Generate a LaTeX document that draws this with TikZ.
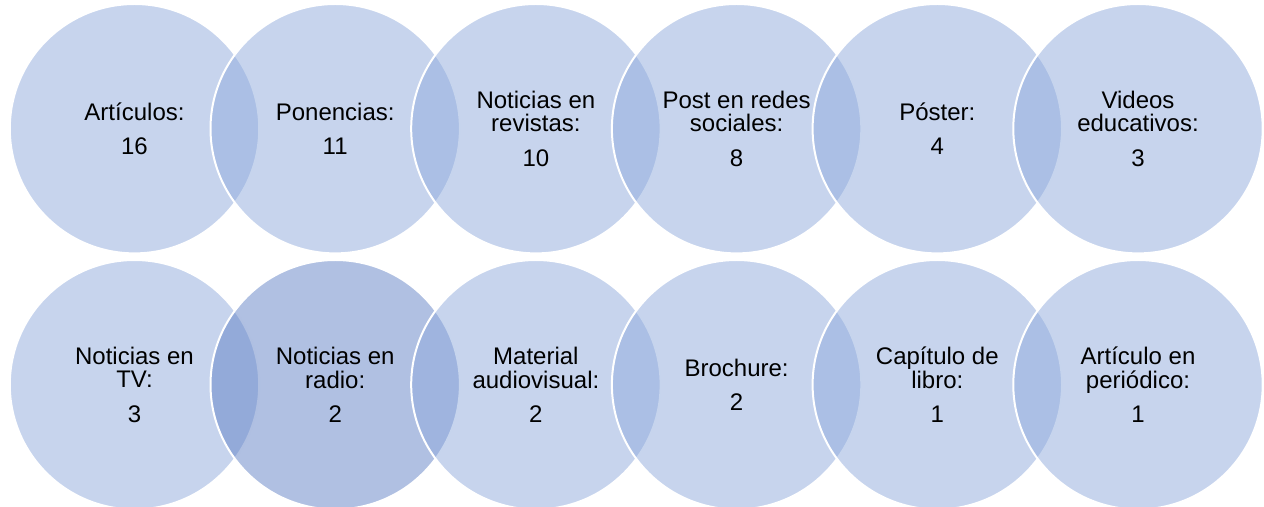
\documentclass[tikz,border=0pt]{standalone}
\usepackage{fontspec}
\setmainfont{Liberation Sans}
\definecolor{vfill}{RGB}{143,170,220}
\definecolor{vdark}{RGB}{97,129,197}
\tikzset{
  venn/.style={circle, minimum size=124.7pt, inner sep=0pt,
    draw=white, line width=1pt, fill=vfill, fill opacity=0.5,
    text opacity=1, text=black, align=center,
    font=\fontsize{12}{11.8}\selectfont},
  venndark/.style={venn, fill=vdark}
}
\begin{document}
\begin{tikzpicture}[x=0.5pt,y=-0.5pt]
\useasboundingbox (0,0) rectangle (1264,507);
% top row
\node[venn] (c1) at (134.5,128.7) {Artículos:\\[5.3pt]16};
\node[venn] (c2) at (335.2,128.7) {Ponencias:\\[5.3pt]11};
\node[venn] (c3) at (535.9,128.7) {Noticias en\\revistas:\\[5.3pt]10};
\node[venn] (c4) at (736.6,128.7) {Post en redes\\sociales:\\[5.3pt]8};
\node[venn] (c5) at (937.3,128.7) {Póster:\\[5.3pt]4};
\node[venn] (c6) at (1138,128.7) {Videos\\educativos:\\[5.3pt]3};
% bottom row
\node[venn] (c7) at (134.5,384.7) {Noticias en\\TV:\\[5.3pt]3};
\node[venndark] (c8) at (335.2,384.7) {Noticias en\\radio:\\[5.3pt]2};
\node[venn] (c9) at (535.9,384.7) {Material\\audiovisual:\\[5.3pt]2};
\node[venn] (c10) at (736.6,384.7) {Brochure:\\[5.3pt]2};
\node[venn] (c11) at (937.3,384.7) {Capítulo de\\libro:\\[5.3pt]1};
\node[venn] (c12) at (1138,384.7) {Artículo en\\periódico:\\[5.3pt]1};
\end{tikzpicture}
\end{document}
